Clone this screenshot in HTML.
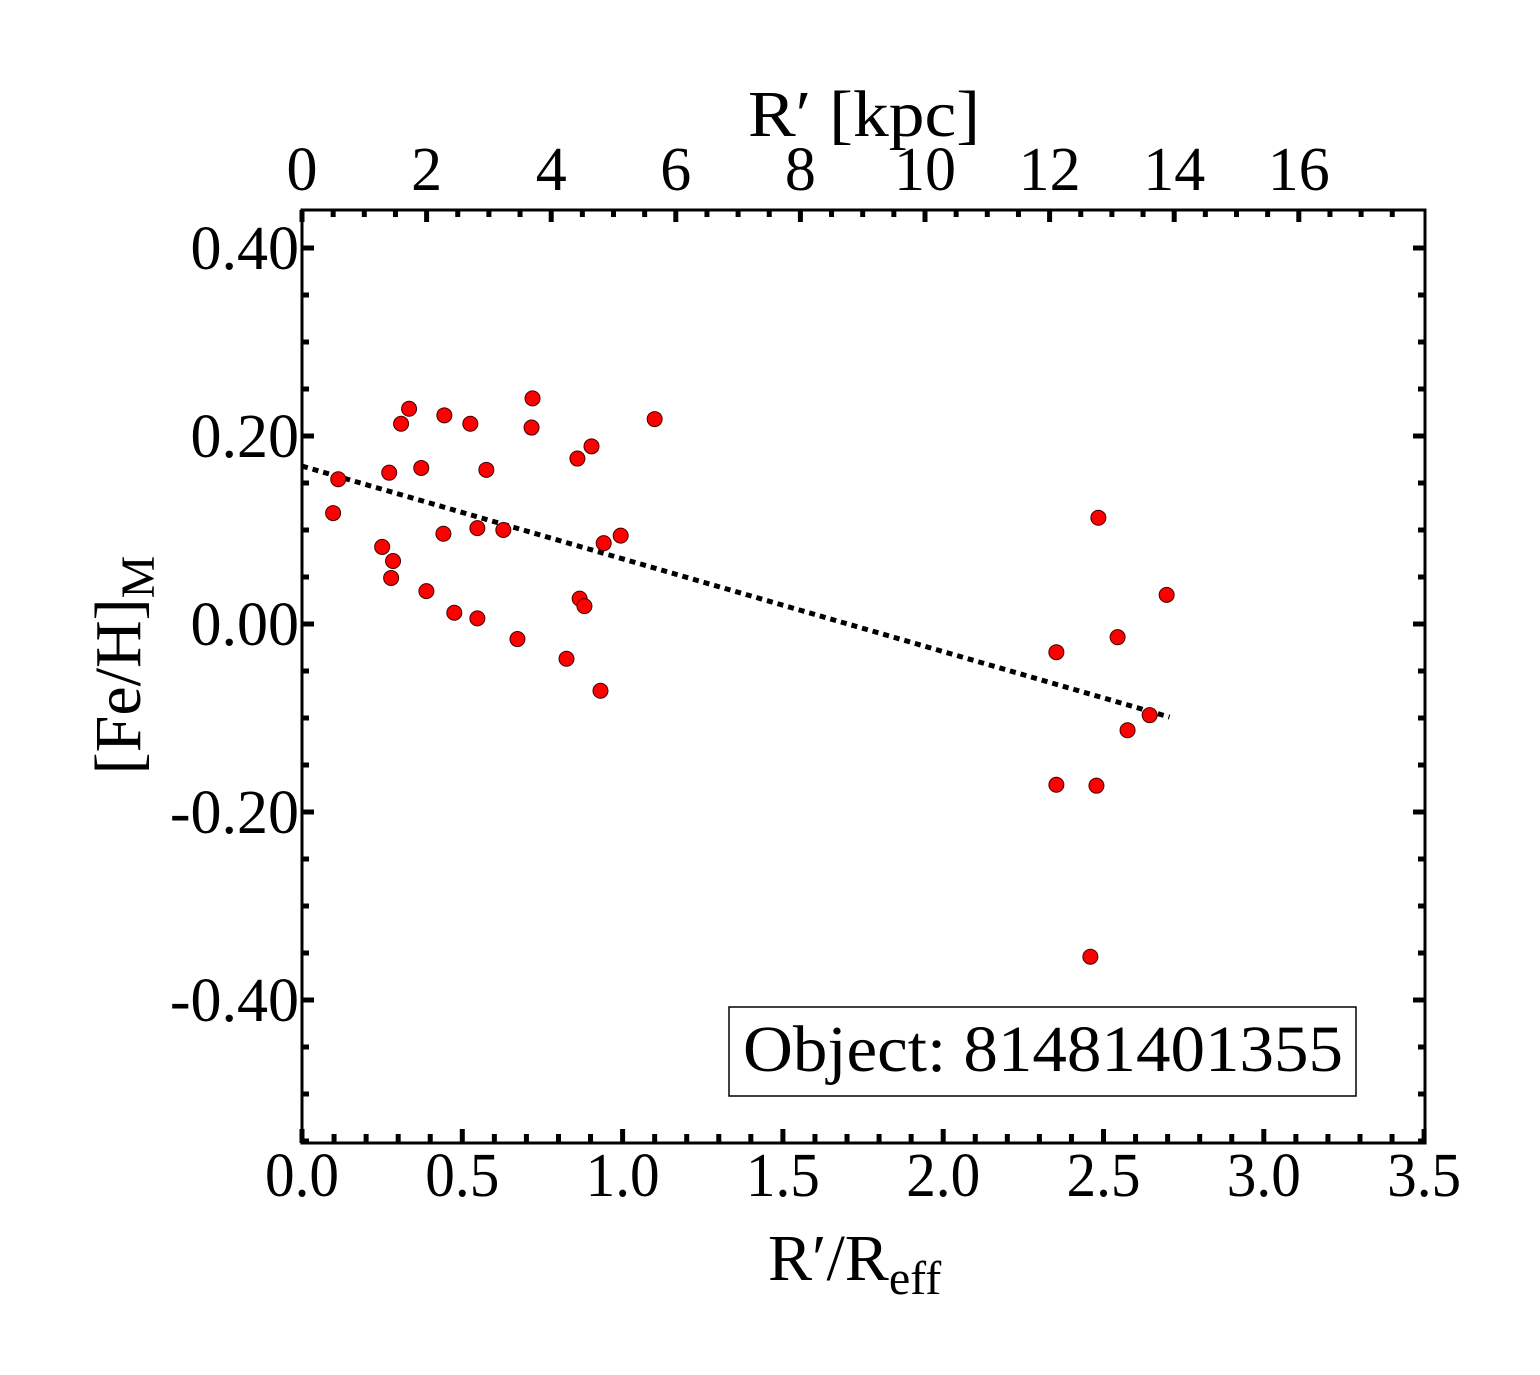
<!DOCTYPE html>
<html><head><meta charset="utf-8"><style>
body{margin:0;background:#fff}
svg{display:block;font-family:"Liberation Serif",serif}
</style></head><body>
<svg id="chart" width="1540" height="1375" viewBox="0 0 1540 1375">
<g id="ticks"></g>
<g id="fit"></g>
<g id="pts"></g>
<rect x="302" y="210" width="1123" height="933" fill="none" stroke="#000" stroke-width="3"/>
<g id="labels" font-size="62"></g>
<text x="748" y="136" font-size="66" textLength="232" lengthAdjust="spacingAndGlyphs">R′ [kpc]</text>
<text x="768" y="1280" font-size="66">R′/R<tspan font-size="48" dy="14">eff</tspan></text>
<text transform="translate(140,665) rotate(-90)" font-size="66" text-anchor="middle">[Fe/H]<tspan font-size="48" dy="14">M</tspan></text>
<rect x="729" y="1007" width="627" height="89" fill="#fff" stroke="#000" stroke-width="1.5"/>
<text x="743" y="1071" font-size="66" textLength="600" lengthAdjust="spacingAndGlyphs">Object: 81481401355</text>
</svg>
<script>
const xs=[0.097,0.113,0.25,0.272,0.284,0.278,0.309,0.334,0.372,0.388,0.441,0.444,0.475,0.525,0.547,0.547,0.575,0.628,0.672,0.716,0.719,0.825,0.859,0.866,0.881,0.903,0.931,0.941,0.994,1.1,2.353,2.353,2.459,2.478,2.484,2.544,2.575,2.644,2.697];
const ys=[0.118,0.154,0.082,0.161,0.067,0.049,0.213,0.229,0.166,0.035,0.096,0.222,0.012,0.213,0.102,0.006,0.164,0.100,-0.016,0.209,0.240,-0.037,0.176,0.027,0.019,0.189,-0.071,0.086,0.094,0.218,-0.030,-0.171,-0.354,-0.172,0.113,-0.014,-0.113,-0.097,0.031];
const fitX=[0,2.706];
const fitY=[0.168,-0.099];
const xTicks=["0.0","0.5","1.0","1.5","2.0","2.5","3.0","3.5"];
const yTicks=["0.40","0.20","0.00","-0.20","-0.40"];
const kpcTicks=["0","2","4","6","8","10","12","14","16"];
const X=v=>302+v*320.6, Y=v=>624-v*940, K=v=>302+v*62.3;
const NS="http://www.w3.org/2000/svg";
function mk(t,a,p){const e=document.createElementNS(NS,t);for(const k in a)e.setAttribute(k,a[k]);p.appendChild(e);return e;}
const tk=document.getElementById('ticks'),lb=document.getElementById('labels');
for(let i=0;i<=35;i++){const x=X(i/10),L=i%5==0?14:9;
const a=mk('line',{x1:x,x2:x,y1:1143,y2:1143-L,stroke:'#000','stroke-width':5},tk);
}
xTicks.forEach(t=>{const e=mk('text',{x:X(+t),y:1196,'text-anchor':'middle',textLength:74,lengthAdjust:'spacingAndGlyphs'},lb);e.textContent=t;
});
for(let i=0;i<=35;i++){const x=K(i/2);if(x>1425)break;const L=i%4==0?12:7;
const a=mk('line',{x1:x,x2:x,y1:210,y2:210+L,stroke:'#000','stroke-width':5},tk);
}
kpcTicks.forEach(t=>{const e=mk('text',{x:K(+t),y:190,'text-anchor':'middle'},lb);e.textContent=t;
});
for(let i=-11;i<=8;i++){const y=Y(i*0.05);if(y<212||y>1141)continue;const L=i%4==0?12:7;
const a=mk('line',{x1:302,x2:302+L,y1:y,y2:y,stroke:'#000','stroke-width':5},tk);

const b=mk('line',{x1:1425,x2:1425-L,y1:y,y2:y,stroke:'#000','stroke-width':5},tk);
}
yTicks.forEach(t=>{const e=mk('text',{x:299,y:Y(+t)+21,'text-anchor':'end'},lb);e.textContent=t;
});
const f=mk('line',{x1:X(fitX[0]),y1:Y(fitY[0]),x2:X(fitX[1]),y2:Y(fitY[1]),stroke:'#000','stroke-width':5,'stroke-dasharray':'6 5'},document.getElementById('fit'));

const pg=document.getElementById('pts');
xs.forEach((v,i)=>{const c=mk('circle',{cx:X(v),cy:Y(ys[i]),r:7.5,fill:'#f00',stroke:'#400','stroke-width':1},pg);
});
</script>
</body></html>
